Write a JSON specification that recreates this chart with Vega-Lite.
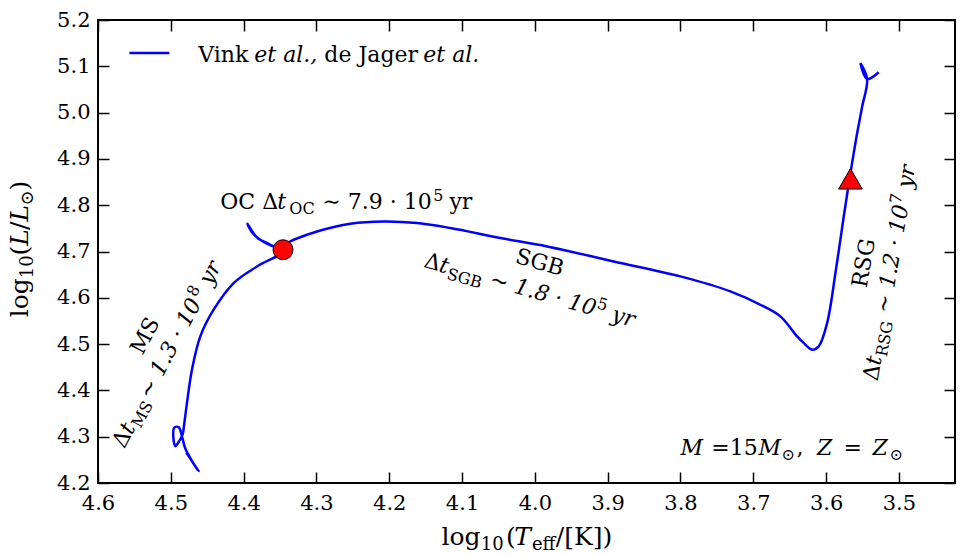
{
  "$schema": "https://vega.github.io/schema/vega-lite/v6.json",
  "width": 857,
  "height": 463,
  "autosize": {"type": "none"},
  "padding": {"left": 98, "top": 20, "right": 6, "bottom": 73},
  "background": "white",
  "config": {
    "view": {"stroke": "black", "strokeWidth": 2},
    "axis": {"labelFont": "DejaVu Serif", "labelFontSize": 21, "labelColor": "black", "domain": false, "grid": false, "labelFlush": false, "labelOverlap": false}
  },
  "datasets": {
    "track": [
      {"o":1,"x":4.4787,"y":4.2658},{"o":2,"x":4.4618,"y":4.2255},{"o":3,"x":4.4705,"y":4.2464},{"o":4,"x":4.4801,"y":4.2744},
      {"o":5,"x":4.4846,"y":4.3003},{"o":6,"x":4.4893,"y":4.3208},{"o":7,"x":4.4952,"y":4.3197},{"o":8,"x":4.4966,"y":4.3003},
      {"o":9,"x":4.4938,"y":4.2794},{"o":10,"x":4.4897,"y":4.2874},{"o":11,"x":4.4839,"y":4.3046},{"o":12,"x":4.4817,"y":4.3262},
      {"o":13,"x":4.4778,"y":4.3730},{"o":14,"x":4.4709,"y":4.4449},{"o":15,"x":4.4595,"y":4.5167},{"o":16,"x":4.4412,"y":4.5743},
      {"o":17,"x":4.4137,"y":4.6319},{"o":18,"x":4.3816,"y":4.6677},{"o":19,"x":4.3473,"y":4.7001},{"o":20,"x":4.3633,"y":4.7146},
      {"o":21,"x":4.3812,"y":4.7297},{"o":22,"x":4.3949,"y":4.7599},{"o":23,"x":4.3880,"y":4.7405},{"o":24,"x":4.3729,"y":4.7210},
      {"o":25,"x":4.3537,"y":4.7092},{"o":26,"x":4.3313,"y":4.7254},{"o":27,"x":4.2992,"y":4.7433},{"o":28,"x":4.2534,"y":4.7599},
      {"o":29,"x":4.2077,"y":4.7648},{"o":30,"x":4.1618,"y":4.7614},{"o":31,"x":4.1161,"y":4.7506},{"o":32,"x":4.0474,"y":4.7290},
      {"o":33,"x":3.9832,"y":4.7109},{"o":34,"x":3.8918,"y":4.6785},{"o":35,"x":3.8001,"y":4.6462},{"o":36,"x":3.7315,"y":4.6138},
      {"o":37,"x":3.6857,"y":4.5814},{"o":38,"x":3.6628,"y":4.5599},{"o":39,"x":3.6398,"y":4.5167},{"o":40,"x":3.6312,"y":4.5031},
      {"o":41,"x":3.6192,"y":4.4880},{"o":42,"x":3.6102,"y":4.4951},{"o":43,"x":3.5986,"y":4.5456},{"o":44,"x":3.5872,"y":4.6535},
      {"o":45,"x":3.5758,"y":4.7756},{"o":46,"x":3.5666,"y":4.8693},{"o":47,"x":3.5574,"y":4.9556},{"o":48,"x":3.5505,"y":5.0129},
      {"o":49,"x":3.5437,"y":5.0727},{"o":50,"x":3.5529,"y":5.1066},{"o":51,"x":3.5437,"y":5.0727},{"o":52,"x":3.5278,"y":5.0872}
    ],
    "oc": [{"x": 4.3459, "y": 4.7038}],
    "rsg": [{"x": 3.5666, "y": 4.857}],
    "leg": [{"x": 4.5569, "x2": 4.5020, "y": 5.1288}],
    "lab": [
      {"t":"Vink","x":4.4622,"y":5.110,"g":"n0"},
      {"t":"de Jager","x":4.2891,"y":5.110,"g":"n0"},
      {"t":"OC Δ","x":4.4320,"y":4.7916,"g":"n0"},
      {"t":"∼ 7.9 · 10","x":4.2919,"y":4.7916,"g":"n0"},
      {"t":"yr","x":4.1174,"y":4.7916,"g":"n0"},
      {"t":"=15","x":3.7576,"y":4.260,"g":"n0"},
      {"t":",","x":3.6408,"y":4.260,"g":"n0"},
      {"t":"=","x":3.5762,"y":4.260,"g":"n0"},
      {"t":"et al.,","x":4.3853,"y":5.110,"g":"i0"},
      {"t":"et al.","x":4.1532,"y":5.110,"g":"i0"},
      {"t":"t","x":4.3537,"y":4.7916,"g":"i0"},
      {"t":"M","x":3.8001,"y":4.260,"g":"i0"},
      {"t":"M","x":3.693,"y":4.260,"g":"i0"},
      {"t":"Z","x":3.6124,"y":4.260,"g":"i0"},
      {"t":"Z","x":3.5364,"y":4.260,"g":"i0"},
      {"t":"OC","x":4.3372,"y":4.7808,"g":"s0"},
      {"t":"5","x":4.1394,"y":4.8080,"g":"s0"},
      {"t":"⊙","x":3.6614,"y":4.2492,"g":"s0"},
      {"t":"⊙","x":3.513,"y":4.2492,"g":"s0"},
      {"t":"MS","x":4.539,"y":4.4751,"g":"nM"},
      {"t":"Δ","x":4.564,"y":4.2727,"g":"nM"},
      {"t":"t","x":4.5538,"y":4.3027,"g":"iM"},
      {"t":"∼ 1.3 · 10","x":4.5279,"y":4.3793,"g":"iM"},
      {"t":"yr","x":4.4448,"y":4.6248,"g":"iM"},
      {"t":"MS","x":4.5415,"y":4.3165,"g":"sM"},
      {"t":"8","x":4.4657,"y":4.6002,"g":"sM"},
      {"t":"SGB","x":4.0283,"y":4.6762,"g":"nS"},
      {"t":"Δ","x":4.1538,"y":4.6671,"g":"nS"},
      {"t":"t","x":4.133,"y":4.6576,"g":"iS"},
      {"t":"∼ 1.8 · 10","x":4.0636,"y":4.6265,"g":"iS"},
      {"t":"yr","x":3.896,"y":4.551,"g":"iS"},
      {"t":"SGB","x":4.122,"y":4.6414,"g":"sS"},
      {"t":"5","x":3.9157,"y":4.5778,"g":"sS"},
      {"t":"RSG","x":3.5446,"y":4.6201,"g":"nR"},
      {"t":"Δ","x":3.5295,"y":4.419,"g":"nR"},
      {"t":"t","x":3.5258,"y":4.4526,"g":"iR"},
      {"t":"∼ 1.2 · 10","x":3.513,"y":4.5653,"g":"iR"},
      {"t":"yr","x":3.4828,"y":4.8352,"g":"iR"},
      {"t":"RSG","x":3.5166,"y":4.4714,"g":"sR"},
      {"t":"7","x":3.4978,"y":4.8017,"g":"sR"},
      {"t":"log","x":4.1284,"y":4.0662,"g":"nX"},
      {"t":"(","x":4.0398,"y":4.0662,"g":"nX"},
      {"t":"/[K])","x":3.9712,"y":4.0662,"g":"nX"},
      {"t":"T","x":4.0282,"y":4.0662,"g":"iX"},
      {"t":"10","x":4.0742,"y":4.0555,"g":"sX"},
      {"t":"eff","x":4.0041,"y":4.0555,"g":"sX"},
      {"t":"log","x":4.6957,"y":4.5579,"g":"nY"},
      {"t":"(","x":4.6957,"y":4.6915,"g":"nY"},
      {"t":"/","x":4.6957,"y":4.7467,"g":"nY"},
      {"t":")","x":4.6957,"y":4.8315,"g":"nY"},
      {"t":"L","x":4.6957,"y":4.7124,"g":"iY"},
      {"t":"L","x":4.6957,"y":4.7648,"g":"iY"},
      {"t":"10","x":4.6889,"y":4.6421,"g":"sY"},
      {"t":"⊙","x":4.6889,"y":4.7991,"g":"sY"}
    ]
  },
  "resolve": {"axis": {"x": "independent", "y": "independent"}},
  "layer": [
    {
      "data": {"name": "track"},
      "mark": {"type": "line", "color": "#0000ff", "strokeWidth": 2.5, "interpolate": "catmull-rom"},
      "encoding": {
        "x": {"field": "x", "type": "quantitative", "scale": {"domain": [3.423, 4.6], "reverse": true, "nice": false, "zero": false},
              "axis": {"orient": "bottom", "title": null, "values": [4.6,4.5,4.4,4.3,4.2,4.1,4.0,3.9,3.8,3.7,3.6,3.5], "format": ".1f", "tickColor": "#000000", "tickWidth": 1.5, "tickSize": -11, "labelPadding": 20}},
        "y": {"field": "y", "type": "quantitative", "scale": {"domain": [4.2, 5.2], "nice": false, "zero": false},
              "axis": {"orient": "left", "title": null, "values": [4.2,4.3,4.4,4.5,4.6,4.7,4.8,4.9,5.0,5.1,5.2], "format": ".1f", "tickColor": "#000000", "tickWidth": 1.5, "tickSize": -11, "labelPadding": 19}},
        "order": {"field": "o", "type": "quantitative"}
      }
    },
    {
      "data": {"name": "oc"},
      "mark": {"type": "point", "shape": "circle", "filled": true, "fill": "#ff0000", "stroke": "black", "strokeWidth": 1, "size": 400, "opacity": 1},
      "encoding": {
        "x": {"field": "x", "type": "quantitative", "axis": null},
        "y": {"field": "y", "type": "quantitative", "axis": null}
      }
    },
    {
      "data": {"name": "rsg"},
      "mark": {"type": "point", "shape": "triangle-up", "filled": true, "fill": "#ff0000", "stroke": "black", "strokeWidth": 1, "size": 560, "opacity": 1},
      "encoding": {
        "x": {"field": "x", "type": "quantitative", "axis": {"orient": "top", "title": null, "labels": false, "tickColor": "#000000", "tickWidth": 1.5, "tickSize": -11, "values": [4.6,4.5,4.4,4.3,4.2,4.1,4.0,3.9,3.8,3.7,3.6,3.5]}},
        "y": {"field": "y", "type": "quantitative", "axis": {"orient": "right", "title": null, "labels": false, "tickColor": "#000000", "tickWidth": 1.5, "tickSize": -11, "values": [4.2,4.3,4.4,4.5,4.6,4.7,4.8,4.9,5.0,5.1,5.2]}}
      }
    },
    {
      "data": {"name": "leg"},
      "mark": {"type": "rule", "color": "#0000ff", "strokeWidth": 2.5},
      "encoding": {
        "x": {"field": "x", "type": "quantitative", "axis": null},
        "x2": {"field": "x2"},
        "y": {"field": "y", "type": "quantitative", "axis": null}
      }
    },
    {"data": {"name": "lab"}, "transform": [{"filter": "datum.g === 'n0'"}],
     "mark": {"type": "text", "font": "DejaVu Serif", "fontSize": 22, "align": "left", "baseline": "alphabetic", "color": "black"},
     "encoding": {"x": {"field": "x", "type": "quantitative", "axis": null}, "y": {"field": "y", "type": "quantitative", "axis": null}, "text": {"field": "t"}}},
    {"data": {"name": "lab"}, "transform": [{"filter": "datum.g === 'i0'"}],
     "mark": {"type": "text", "font": "DejaVu Serif", "fontSize": 22, "fontStyle": "italic", "align": "left", "baseline": "alphabetic", "color": "black"},
     "encoding": {"x": {"field": "x", "type": "quantitative", "axis": null}, "y": {"field": "y", "type": "quantitative", "axis": null}, "text": {"field": "t"}}},
    {"data": {"name": "lab"}, "transform": [{"filter": "datum.g === 's0'"}],
     "mark": {"type": "text", "font": "DejaVu Serif", "fontSize": 16, "align": "left", "baseline": "alphabetic", "color": "black"},
     "encoding": {"x": {"field": "x", "type": "quantitative", "axis": null}, "y": {"field": "y", "type": "quantitative", "axis": null}, "text": {"field": "t"}}},
    {"data": {"name": "lab"}, "transform": [{"filter": "datum.g === 'nM'"}],
     "mark": {"type": "text", "font": "DejaVu Serif", "fontSize": 22, "angle": 298, "align": "left", "baseline": "alphabetic", "color": "black"},
     "encoding": {"x": {"field": "x", "type": "quantitative", "axis": null}, "y": {"field": "y", "type": "quantitative", "axis": null}, "text": {"field": "t"}}},
    {"data": {"name": "lab"}, "transform": [{"filter": "datum.g === 'iM'"}],
     "mark": {"type": "text", "font": "DejaVu Serif", "fontSize": 22, "fontStyle": "italic", "angle": 298, "align": "left", "baseline": "alphabetic", "color": "black"},
     "encoding": {"x": {"field": "x", "type": "quantitative", "axis": null}, "y": {"field": "y", "type": "quantitative", "axis": null}, "text": {"field": "t"}}},
    {"data": {"name": "lab"}, "transform": [{"filter": "datum.g === 'sM'"}],
     "mark": {"type": "text", "font": "DejaVu Serif", "fontSize": 16, "angle": 298, "align": "left", "baseline": "alphabetic", "color": "black"},
     "encoding": {"x": {"field": "x", "type": "quantitative", "axis": null}, "y": {"field": "y", "type": "quantitative", "axis": null}, "text": {"field": "t"}}},
    {"data": {"name": "lab"}, "transform": [{"filter": "datum.g === 'nS'"}],
     "mark": {"type": "text", "font": "DejaVu Serif", "fontSize": 22, "angle": 16, "align": "left", "baseline": "alphabetic", "color": "black"},
     "encoding": {"x": {"field": "x", "type": "quantitative", "axis": null}, "y": {"field": "y", "type": "quantitative", "axis": null}, "text": {"field": "t"}}},
    {"data": {"name": "lab"}, "transform": [{"filter": "datum.g === 'iS'"}],
     "mark": {"type": "text", "font": "DejaVu Serif", "fontSize": 22, "fontStyle": "italic", "angle": 16, "align": "left", "baseline": "alphabetic", "color": "black"},
     "encoding": {"x": {"field": "x", "type": "quantitative", "axis": null}, "y": {"field": "y", "type": "quantitative", "axis": null}, "text": {"field": "t"}}},
    {"data": {"name": "lab"}, "transform": [{"filter": "datum.g === 'sS'"}],
     "mark": {"type": "text", "font": "DejaVu Serif", "fontSize": 16, "angle": 16, "align": "left", "baseline": "alphabetic", "color": "black"},
     "encoding": {"x": {"field": "x", "type": "quantitative", "axis": null}, "y": {"field": "y", "type": "quantitative", "axis": null}, "text": {"field": "t"}}},
    {"data": {"name": "lab"}, "transform": [{"filter": "datum.g === 'nR'"}],
     "mark": {"type": "text", "font": "DejaVu Serif", "fontSize": 22, "angle": 280, "align": "left", "baseline": "alphabetic", "color": "black"},
     "encoding": {"x": {"field": "x", "type": "quantitative", "axis": null}, "y": {"field": "y", "type": "quantitative", "axis": null}, "text": {"field": "t"}}},
    {"data": {"name": "lab"}, "transform": [{"filter": "datum.g === 'iR'"}],
     "mark": {"type": "text", "font": "DejaVu Serif", "fontSize": 22, "fontStyle": "italic", "angle": 280, "align": "left", "baseline": "alphabetic", "color": "black"},
     "encoding": {"x": {"field": "x", "type": "quantitative", "axis": null}, "y": {"field": "y", "type": "quantitative", "axis": null}, "text": {"field": "t"}}},
    {"data": {"name": "lab"}, "transform": [{"filter": "datum.g === 'sR'"}],
     "mark": {"type": "text", "font": "DejaVu Serif", "fontSize": 16, "angle": 280, "align": "left", "baseline": "alphabetic", "color": "black"},
     "encoding": {"x": {"field": "x", "type": "quantitative", "axis": null}, "y": {"field": "y", "type": "quantitative", "axis": null}, "text": {"field": "t"}}},
    {"data": {"name": "lab"}, "transform": [{"filter": "datum.g === 'nX'"}],
     "mark": {"type": "text", "font": "DejaVu Serif", "fontSize": 25, "align": "left", "baseline": "alphabetic", "color": "black"},
     "encoding": {"x": {"field": "x", "type": "quantitative", "axis": null}, "y": {"field": "y", "type": "quantitative", "axis": null}, "text": {"field": "t"}}},
    {"data": {"name": "lab"}, "transform": [{"filter": "datum.g === 'iX'"}],
     "mark": {"type": "text", "font": "DejaVu Serif", "fontSize": 25, "fontStyle": "italic", "align": "left", "baseline": "alphabetic", "color": "black"},
     "encoding": {"x": {"field": "x", "type": "quantitative", "axis": null}, "y": {"field": "y", "type": "quantitative", "axis": null}, "text": {"field": "t"}}},
    {"data": {"name": "lab"}, "transform": [{"filter": "datum.g === 'sX'"}],
     "mark": {"type": "text", "font": "DejaVu Serif", "fontSize": 18, "align": "left", "baseline": "alphabetic", "color": "black"},
     "encoding": {"x": {"field": "x", "type": "quantitative", "axis": null}, "y": {"field": "y", "type": "quantitative", "axis": null}, "text": {"field": "t"}}},
    {"data": {"name": "lab"}, "transform": [{"filter": "datum.g === 'nY'"}],
     "mark": {"type": "text", "font": "DejaVu Serif", "fontSize": 25, "angle": 270, "align": "left", "baseline": "alphabetic", "color": "black"},
     "encoding": {"x": {"field": "x", "type": "quantitative", "axis": null}, "y": {"field": "y", "type": "quantitative", "axis": null}, "text": {"field": "t"}}},
    {"data": {"name": "lab"}, "transform": [{"filter": "datum.g === 'iY'"}],
     "mark": {"type": "text", "font": "DejaVu Serif", "fontSize": 25, "fontStyle": "italic", "angle": 270, "align": "left", "baseline": "alphabetic", "color": "black"},
     "encoding": {"x": {"field": "x", "type": "quantitative", "axis": null}, "y": {"field": "y", "type": "quantitative", "axis": null}, "text": {"field": "t"}}},
    {"data": {"name": "lab"}, "transform": [{"filter": "datum.g === 'sY'"}],
     "mark": {"type": "text", "font": "DejaVu Serif", "fontSize": 18, "angle": 270, "align": "left", "baseline": "alphabetic", "color": "black"},
     "encoding": {"x": {"field": "x", "type": "quantitative", "axis": null}, "y": {"field": "y", "type": "quantitative", "axis": null}, "text": {"field": "t"}}}
  ]
}
